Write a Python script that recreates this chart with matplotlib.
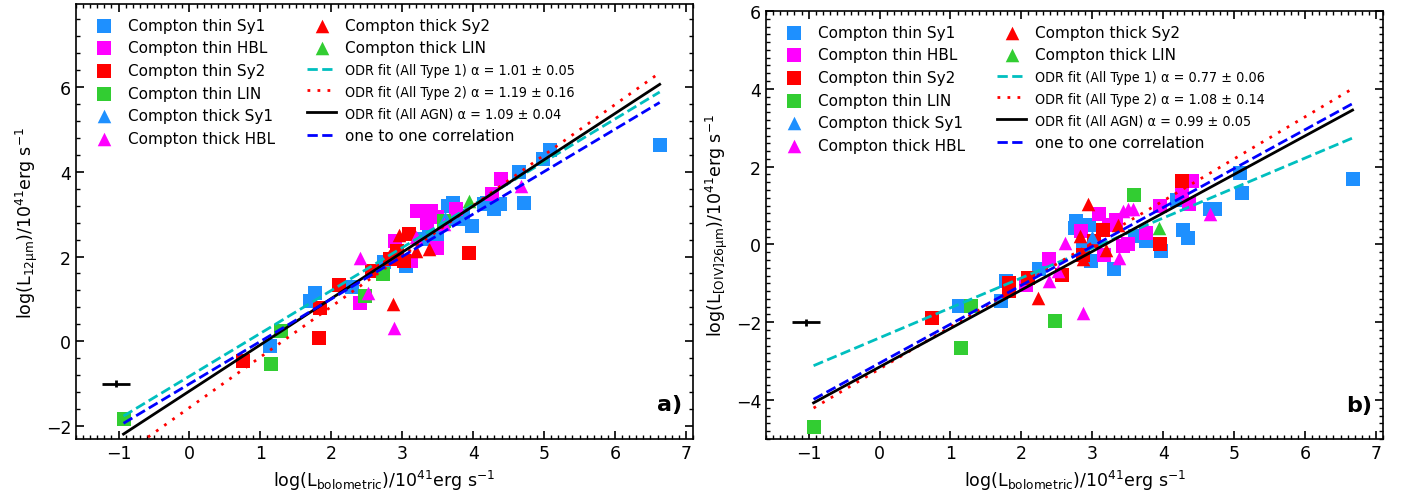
import numpy as np
import matplotlib
matplotlib.use("Agg")
import matplotlib.pyplot as plt
from matplotlib import font_manager as fm
from matplotlib.ticker import MultipleLocator

# ---- panel a) log L_12um vs log L_bol, points as (x, y)
a_thin_sy1 = [(1.14, -0.11), (1.70, 0.95), (1.77, 1.15), (2.29, 1.28), (2.75, 1.86),
              (3.05, 1.78), (3.28, 2.41), (3.38, 2.48), (3.49, 2.45), (3.64, 3.19),
              (3.71, 3.27), (3.78, 2.88), (3.85, 2.96), (3.98, 2.72), (4.15, 3.23),
              (4.20, 3.27), (4.30, 3.11), (4.38, 3.23), (4.65, 3.98), (4.72, 3.25),
              (4.98, 4.30), (5.08, 4.50), (6.63, 4.63)]
a_thin_hbl = [(2.41, 0.91), (2.90, 2.37), (3.12, 1.89), (3.21, 3.07), (3.35, 2.80),
              (3.40, 3.07), (3.49, 2.92), (3.49, 2.21), (3.76, 3.11), (4.26, 3.47),
              (4.39, 3.82)]
a_thin_sy2 = [(0.75, -0.47), (1.83, 0.09), (1.84, 0.79), (2.11, 1.34), (2.57, 1.66),
              (2.83, 1.93), (2.93, 2.13), (3.02, 1.89), (3.09, 2.52), (3.94, 2.09)]
a_thin_lin = [(-0.93, -1.82), (1.15, -0.53), (1.29, 0.24), (2.48, 1.07), (2.73, 1.58),
              (3.59, 2.84)]
a_thick_sy1 = [(3.60, 2.90)]
a_thick_hbl = [(2.40, 1.97), (2.52, 1.15), (2.88, 0.32), (3.19, 2.45), (3.59, 2.76),
               (4.67, 3.66)]
a_thick_sy2 = [(2.81, 2.01), (2.87, 0.87), (2.95, 2.50), (3.20, 2.13), (3.38, 2.17)]
a_thick_lin = [(3.94, 3.31)]

# ---- panel b) log L_[OIV]26um vs log L_bol
b_thin_sy1 = [(1.12, -1.58), (1.71, -1.45), (1.78, -0.94), (2.25, -0.64), (2.75, 0.43),
              (2.77, 0.60), (2.87, -0.13), (2.96, 0.51), (2.98, -0.43), (3.31, -0.64),
              (3.60, 0.21), (3.76, 0.08), (3.97, -0.17), (4.19, 1.15), (4.28, 0.38),
              (4.35, 0.17), (4.66, 0.90), (4.73, 0.90), (5.08, 1.84), (5.11, 1.33),
              (6.67, 1.68)]
b_thin_hbl = [(2.07, -1.03), (2.39, -0.38), (2.84, 0.34), (3.10, 0.77), (3.17, -0.26),
              (3.24, 0.51), (3.34, 0.64), (3.43, -0.04), (3.50, 0.00), (3.76, 0.30),
              (3.95, 0.98), (4.26, 1.33), (4.37, 1.03), (4.40, 1.62)]
b_thin_sy2 = [(0.74, -1.90), (1.83, -0.98), (1.83, -1.20), (2.09, -0.85), (2.57, -0.79),
              (2.87, -0.26), (3.03, 0.08), (3.15, 0.38), (3.95, 0.00), (4.26, 1.62)]
b_thin_lin = [(-0.93, -4.68), (1.15, -2.67), (1.29, -1.58), (2.47, -1.97), (3.59, 1.28)]
b_thick_sy1 = [(3.00, 0.20)]
b_thick_hbl = [(2.39, -0.94), (2.51, -0.68), (2.61, 0.04), (2.87, -1.75), (3.38, -0.34),
               (3.43, 0.85), (3.50, 0.90), (3.57, 0.90), (4.66, 0.77)]
b_thick_sy2 = [(2.23, -1.37), (2.83, 0.21), (2.87, -0.38), (2.94, 1.03), (3.20, -0.13),
               (3.36, 0.51)]
b_thick_lin = [(3.94, 0.43)]

# fit lines: type 1, type 2, all AGN, one to one
a_fit_slope = [1.01, 1.19, 1.09, 1.00]
a_fit_icpt = [-0.82, -1.56, -1.17, -1.00]
a_alpha_err = [0.05, 0.16, 0.04]
b_fit_slope = [0.77, 1.08, 0.99, 1.00]
b_fit_icpt = [-2.40, -3.20, -3.15, -3.05]
b_alpha_err = [0.06, 0.14, 0.05]

# typical error bar (x, y, xerr, yerr)
a_typ_err = (-1.04, -1.0, 0.2, 0.08)
b_typ_err = (-1.04, -2.0, 0.2, 0.09)

CAT_LABELS = ["Compton thin Sy1", "Compton thin HBL", "Compton thin Sy2", "Compton thin LIN",
              "Compton thick Sy1", "Compton thick HBL", "Compton thick Sy2", "Compton thick LIN"]
CAT_MARKERS = ["s", "s", "s", "s", "^", "^", "^", "^"]
CAT_COLORS = ["#1e90ff", "#ff00ff", "#ff0000", "#32cd32"] * 2

FIT_NAMES = ["ODR fit (All Type 1)", "ODR fit (All Type 2)", "ODR fit (All AGN)"]
FIT_STYLES = [dict(color="c", ls="--"), dict(color="r", ls=(0, (1, 2.6))),
              dict(color="k", ls="-"), dict(color="b", ls="--")]


def narrow_props(size):
    # the fit labels are set in a narrower face than the rest of the legend
    for fam, stretch in [("DejaVu Sans", "condensed"), ("Liberation Sans Narrow", "normal")]:
        fp = fm.FontProperties(family=fam, stretch=stretch, size=size)
        path = fm.findfont(fp, fallback_to_default=False)
        if "Condensed" in path or "Narrow" in path:
            return fp
    return fm.FontProperties(family="DejaVu Sans", size=size * 0.85)


def plot_panel(ax, groups, slopes, icpts, errs, typ, ylabel, ylim, yminor, tag):
    allx = []
    for pts, lab, mk, col in zip(groups, CAT_LABELS, CAT_MARKERS, CAT_COLORS):
        p = np.array(pts)
        allx.extend(p[:, 0])
        ax.scatter(p[:, 0], p[:, 1], marker=mk, s=95, color=col, linewidths=0,
                   label=lab, zorder=2)
    xx = np.linspace(min(allx), max(allx), 50)
    for i, st in enumerate(FIT_STYLES):
        if i < 3:
            lab = FIT_NAMES[i] + " α = %.2f ± %.2f" % (slopes[i], errs[i])
        else:
            lab = "one to one correlation"
        ax.plot(xx, slopes[i] * xx + icpts[i], lw=2, label=lab, zorder=3, **st)

    ax.errorbar(typ[0], typ[1], xerr=typ[2], yerr=typ[3], fmt="none", ecolor="k",
                elinewidth=2, capsize=0)

    ax.set_xlim(-1.6, 7.1)
    ax.set_ylim(*ylim)
    ax.xaxis.set_major_locator(MultipleLocator(1))
    ax.xaxis.set_minor_locator(MultipleLocator(0.1))
    ax.yaxis.set_major_locator(MultipleLocator(2))
    ax.yaxis.set_minor_locator(MultipleLocator(yminor))
    ax.tick_params(which="both", direction="in", top=True, right=True, labelsize=12.5)
    ax.tick_params(which="major", length=6, width=1.2)
    ax.tick_params(which="minor", length=3, width=1)
    for sp in ax.spines.values():
        sp.set_linewidth(1.2)

    ax.set_xlabel(r"log(L$_{\rm bolometric}$)/10$^{41}$erg s$^{-1}$", fontsize=12.5)
    ax.set_ylabel(ylabel, fontsize=12.5)
    ax.text(0.982, 0.08, tag, transform=ax.transAxes, ha="right", va="center",
            fontsize=16, fontweight="bold")

    leg = ax.legend(loc="upper left", ncol=2, frameon=False, fontsize=11,
                    handlelength=1.9, handletextpad=0.6, labelspacing=0.5,
                    columnspacing=2.1, borderaxespad=0.5)
    nfp = narrow_props(10.3)
    for t in leg.get_texts()[8:11]:
        t.set_fontproperties(nfp)


fig = plt.figure(figsize=(14.02, 5.02), dpi=100)
ax1 = fig.add_axes([0.0542, 0.1235, 0.4401, 0.8665])
ax2 = fig.add_axes([0.5464, 0.1235, 0.4401, 0.8526])

plot_panel(ax1, [a_thin_sy1, a_thin_hbl, a_thin_sy2, a_thin_lin,
                 a_thick_sy1, a_thick_hbl, a_thick_sy2, a_thick_lin],
           a_fit_slope, a_fit_icpt, a_alpha_err, a_typ_err,
           r"log(L$_{\rm 12\mu m}$)/10$^{41}$erg s$^{-1}$", (-2.3, 7.95), 0.4, "a)")
plot_panel(ax2, [b_thin_sy1, b_thin_hbl, b_thin_sy2, b_thin_lin,
                 b_thick_sy1, b_thick_hbl, b_thick_sy2, b_thick_lin],
           b_fit_slope, b_fit_icpt, b_alpha_err, b_typ_err,
           r"log(L$_{\rm [OIV]26\mu m}$)/10$^{41}$erg s$^{-1}$", (-5, 6), 0.2, "b)")

fig.savefig("out.png", dpi=100)
